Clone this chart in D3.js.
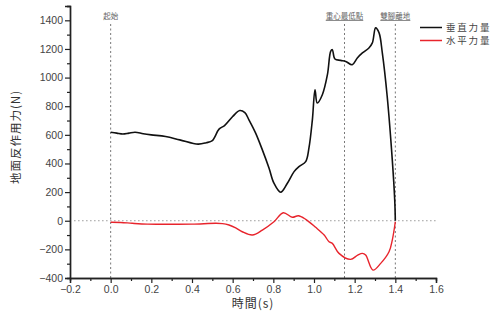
<!DOCTYPE html>
<html>
<head>
<meta charset="utf-8">
<script src="https://cdn.jsdelivr.net/npm/d3@7/dist/d3.min.js"></script>
<style>
  html, body { margin: 0; padding: 0; background: #fff; }
  svg { display: block; }
  .tick text { font-family: "Liberation Sans", Arial, sans-serif; }
</style>
</head>
<body>
<svg id="chart" width="494" height="320"></svg>
<script>
// Vertical ground reaction force (N) over time (s)
const verticalTime = [0, 0.03, 0.06, 0.09, 0.12, 0.16, 0.2, 0.27, 0.34, 0.43, 0.47, 0.5, 0.533, 0.56, 0.6, 0.635, 0.66, 0.68, 0.713, 0.746, 0.779, 0.803, 0.836, 0.869, 0.902, 0.926, 0.959, 0.975, 0.992, 1.005, 1.016, 1.041, 1.066, 1.082, 1.09, 1.103, 1.131, 1.156, 1.188, 1.213, 1.238, 1.27, 1.287, 1.303, 1.32, 1.336, 1.36, 1.385, 1.397, 1.40];
const verticalForce = [618, 612, 606, 612, 618, 608, 600, 588, 565, 535, 545, 560, 640, 665, 728, 770, 755, 705, 612, 495, 367, 262, 199, 262, 343, 378, 413, 507, 705, 915, 822, 880, 1020, 1183, 1195, 1130, 1120, 1113, 1090, 1137, 1172, 1207, 1242, 1347, 1312, 1172, 868, 425, 145, 0];

// Horizontal ground reaction force (N) over time (s)
const horizontalTime = [0, 0.05, 0.106, 0.18, 0.27, 0.4, 0.516, 0.55, 0.582, 0.615, 0.647, 0.697, 0.746, 0.803, 0.849, 0.893, 0.923, 0.959, 1.008, 1.05, 1.074, 1.09, 1.123, 1.18, 1.215, 1.238, 1.254, 1.29, 1.328, 1.369, 1.385, 1.40];
const horizontalForce = [-11, -12, -18, -24, -25, -24, -18, -20, -30, -50, -77, -100, -65, -7, 56, 24, 35, 10, -46, -100, -147, -158, -228, -270, -240, -228, -240, -345, -298, -217, -135, -7];

// Axis tick values
const xTicks = [-0.2, 0, 0.2, 0.4, 0.6, 0.8, 1.0, 1.2, 1.4, 1.6];
const yTicks = [-400, -200, 0, 200, 400, 600, 800, 1000, 1200, 1400];

// Phase markers
const markerTimes = [0, 1.15, 1.4];
const markerLabels = ["起始", "重心最低點", "雙腳離地"];

// Legend
const seriesNames = ["垂直力量", "水平力量"];
const seriesColors = ["#111111", "#e8242c"];

const svg = d3.select("#chart");
const plotLeft = 70, plotRight = 436, plotTop = 6, plotBottom = 278;

const x = d3.scaleLinear().domain([-0.2, 1.6]).range([plotLeft, plotRight]);
const y = d3.scaleLinear().domain([-400, 1500]).range([plotBottom, plotTop]);

const cjk = '"Noto Sans CJK TC", "Noto Sans CJK SC", sans-serif';

// zero reference line
svg.append("line")
  .attr("x1", x(-0.18)).attr("x2", x(1.6))
  .attr("y1", y(0)).attr("y2", y(0))
  .attr("stroke", "#999").attr("stroke-width", 1)
  .attr("stroke-dasharray", "1.5,2.5");

// phase marker lines and labels
markerTimes.forEach((t, i) => {
  svg.append("line")
    .attr("x1", x(t)).attr("x2", x(t))
    .attr("y1", 24).attr("y2", plotBottom)
    .attr("stroke", "#777").attr("stroke-width", 1)
    .attr("stroke-dasharray", "2,2.5");
  svg.append("text")
    .attr("x", x(t)).attr("y", 19)
    .attr("text-anchor", "middle")
    .attr("font-family", cjk)
    .attr("font-size", 7.5)
    .attr("fill", "#666")
    .attr("text-decoration", i > 0 ? "underline" : null)
    .text(markerLabels[i]);
});

// axes
const xAxis = d3.axisBottom(x).tickValues(xTicks).tickSize(5).tickPadding(3)
  .tickFormat(d3.format(".1f"));
const xMinor = d3.axisBottom(x).tickValues(d3.range(-0.1, 1.6, 0.2)).tickSize(3).tickFormat("");
const yAxis = d3.axisLeft(y).tickValues(yTicks).tickSize(5).tickPadding(2)
  .tickFormat(d3.format("d"));
const yMinor = d3.axisLeft(y).tickValues(d3.range(-300, 1600, 200)).tickSize(3).tickFormat("");

function styleAxis(g) {
  g.select(".domain").attr("stroke", "#222").attr("stroke-width", 1.4);
  g.selectAll(".tick line").attr("stroke", "#222").attr("stroke-width", 1.2);
  g.selectAll(".tick text").attr("font-size", 10.5).attr("fill", "#444");
}

svg.append("g").attr("transform", `translate(0,${plotBottom})`).call(xMinor).call(styleAxis);
svg.append("g").attr("transform", `translate(0,${plotBottom})`).call(xAxis).call(styleAxis);
svg.append("g").attr("transform", `translate(${plotLeft},0)`).call(yMinor).call(styleAxis);
svg.append("g").attr("transform", `translate(${plotLeft},0)`).call(yAxis).call(styleAxis);

// data lines
const line = d3.line()
  .x(d => x(d[0]))
  .y(d => y(d[1]))
  .curve(d3.curveCatmullRom.alpha(0.5));

svg.append("path")
  .datum(horizontalTime.map((t, i) => [t, horizontalForce[i]]))
  .attr("d", line)
  .attr("fill", "none")
  .attr("stroke", seriesColors[1])
  .attr("stroke-width", 1.4);

svg.append("path")
  .datum(verticalTime.map((t, i) => [t, verticalForce[i]]))
  .attr("d", line)
  .attr("fill", "none")
  .attr("stroke", seriesColors[0])
  .attr("stroke-width", 1.6);

// legend
seriesNames.forEach((name, i) => {
  const ly = 27.5 + i * 13;
  svg.append("line")
    .attr("x1", 420).attr("x2", 442)
    .attr("y1", ly).attr("y2", ly)
    .attr("stroke", seriesColors[i]).attr("stroke-width", 1.5);
  svg.append("text")
    .attr("x", 446).attr("y", ly + 3.5)
    .attr("font-family", cjk)
    .attr("font-size", 9.5)
    .attr("letter-spacing", 1.8)
    .attr("fill", "#444")
    .text(name);
});

// axis titles
svg.append("text")
  .attr("transform", `translate(20,137) rotate(-90)`)
  .attr("text-anchor", "middle")
  .attr("font-family", cjk)
  .attr("font-size", 11.5)
  .attr("letter-spacing", 1)
  .attr("fill", "#333")
  .text("地面反作用力(N)");

svg.append("text")
  .attr("x", 253).attr("y", 308)
  .attr("text-anchor", "middle")
  .attr("font-family", cjk)
  .attr("font-size", 12)
  .attr("letter-spacing", 1)
  .attr("fill", "#333")
  .text("時間(s)");
</script>
</body>
</html>
